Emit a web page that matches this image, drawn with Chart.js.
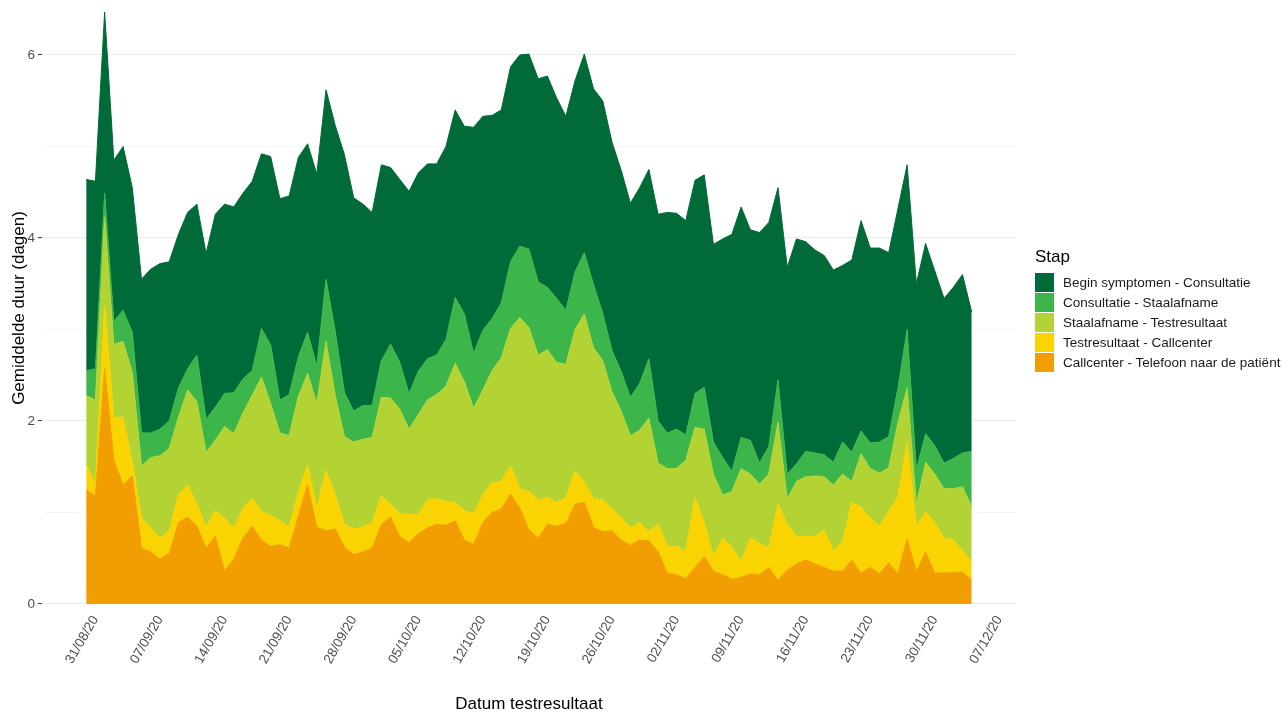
<!DOCTYPE html>
<html>
<head>
<meta charset="utf-8">
<script src="https://cdn.jsdelivr.net/npm/chart.js@4.4.1/dist/chart.umd.min.js"></script>
<style>
  html, body { margin: 0; padding: 0; background: #fff; overflow: hidden; }
  #wrap { position: relative; width: 1288px; height: 715px; font-family: 'Liberation Sans', Arial, sans-serif; }
  #legend { position: absolute; left: 1035px; top: 246px; white-space: nowrap; }
  #legend .title { font-size: 17px; color: #000; height: 26px; line-height: 22px; }
  #legend .row { height: 20px; display: flex; align-items: center; }
  #legend .key { width: 19px; height: 19px; margin-right: 9px; }
  #legend .lab { font-size: 13.5px; color: #1a1a1a; }
</style>
</head>
<body>
<div id="wrap">
  <canvas id="grafiek" width="1288" height="715"></canvas>
  <div id="legend"></div>
</div>
<script>
// eerste dag van de reeks (index 0)
const startDatum = '30/08/20';

const tickLabels = ['31/08/20', '07/09/20', '14/09/20', '21/09/20', '28/09/20', '05/10/20', '12/10/20',
  '19/10/20', '26/10/20', '02/11/20', '09/11/20', '16/11/20', '23/11/20', '30/11/20', '07/12/20'];

const stappen = ['Begin symptomen - Consultatie', 'Consultatie - Staalafname', 'Staalafname - Testresultaat',
  'Testresultaat - Callcenter', 'Callcenter - Telefoon naar de patiënt'];

const callcenterTelefoon = [1.25, 1.18, 2.57, 1.57, 1.30, 1.40, 0.61, 0.57, 0.49, 0.55, 0.89, 0.95, 0.85, 0.61, 0.74, 0.36,
  0.49, 0.72, 0.85, 0.70, 0.63, 0.65, 0.61, 0.96, 1.30, 0.84, 0.80, 0.82, 0.62, 0.54, 0.57, 0.61,
  0.87, 0.95, 0.74, 0.67, 0.77, 0.83, 0.87, 0.86, 0.91, 0.70, 0.65, 0.89, 1.00, 1.04, 1.20, 1.05,
  0.81, 0.72, 0.87, 0.85, 0.88, 1.09, 1.11, 0.84, 0.79, 0.80, 0.70, 0.64, 0.70, 0.69, 0.57, 0.34,
  0.32, 0.28, 0.40, 0.52, 0.36, 0.32, 0.27, 0.29, 0.33, 0.32, 0.40, 0.26, 0.37, 0.44, 0.48, 0.44,
  0.40, 0.36, 0.36, 0.48, 0.34, 0.40, 0.33, 0.45, 0.33, 0.71, 0.35, 0.57, 0.34, 0.34, 0.34, 0.35, 0.26];

const testresultaatCallcenter = [0.28, 0.12, 0.69, 0.47, 0.74, 0.15, 0.33, 0.26, 0.23, 0.25, 0.30, 0.35, 0.24, 0.23, 0.28, 0.58,
  0.34, 0.32, 0.30, 0.31, 0.34, 0.26, 0.23, 0.26, 0.22, 0.21, 0.66, 0.37, 0.25, 0.28, 0.27, 0.28,
  0.31, 0.14, 0.25, 0.31, 0.21, 0.31, 0.28, 0.26, 0.20, 0.32, 0.34, 0.30, 0.33, 0.30, 0.31, 0.21,
  0.42, 0.41, 0.30, 0.26, 0.28, 0.36, 0.23, 0.31, 0.35, 0.24, 0.24, 0.19, 0.19, 0.10, 0.30, 0.29,
  0.31, 0.30, 0.76, 0.37, 0.16, 0.40, 0.35, 0.17, 0.39, 0.34, 0.21, 0.83, 0.50, 0.30, 0.26, 0.30,
  0.41, 0.22, 0.32, 0.63, 0.72, 0.54, 0.52, 0.56, 0.84, 1.06, 0.50, 0.44, 0.55, 0.38, 0.36, 0.23, 0.20];

const staalafnameTestresultaat = [0.75, 0.93, 0.97, 0.80, 0.83, 0.98, 0.57, 0.77, 0.90, 0.90, 0.85, 1.04, 1.12, 0.82, 0.77, 1.00,
  1.03, 1.05, 1.13, 1.47, 1.22, 0.96, 1.00, 1.05, 1.00, 1.14, 1.41, 1.09, 0.96, 0.95, 0.96, 0.93,
  1.08, 1.16, 1.14, 0.93, 1.09, 1.09, 1.14, 1.26, 1.52, 1.41, 1.15, 1.15, 1.22, 1.35, 1.50, 1.87,
  1.79, 1.59, 1.61, 1.53, 1.46, 1.55, 1.83, 1.65, 1.52, 1.28, 1.17, 1.01, 1.01, 1.24, 0.67, 0.85,
  0.85, 0.99, 0.77, 1.02, 0.90, 0.47, 0.61, 1.02, 0.70, 0.65, 0.81, 0.90, 0.28, 0.60, 0.65, 0.66,
  0.58, 0.72, 0.74, 0.23, 0.58, 0.54, 0.58, 0.48, 0.81, 0.59, 0.24, 0.54, 0.53, 0.54, 0.56, 0.70, 0.60];

const consultatieStaalafname = [0.27, 0.34, 0.26, 0.25, 0.34, 0.44, 0.36, 0.27, 0.29, 0.30, 0.32, 0.23, 0.51, 0.36, 0.36, 0.36,
  0.45, 0.37, 0.27, 0.53, 0.64, 0.36, 0.45, 0.43, 0.45, 0.41, 0.68, 0.70, 0.48, 0.34, 0.37, 0.35,
  0.40, 0.59, 0.51, 0.39, 0.47, 0.45, 0.43, 0.51, 0.72, 0.74, 0.60, 0.65, 0.57, 0.60, 0.73, 0.78,
  0.86, 0.80, 0.68, 0.70, 0.59, 0.63, 0.67, 0.69, 0.52, 0.45, 0.43, 0.42, 0.51, 0.65, 0.46, 0.39,
  0.43, 0.28, 0.37, 0.46, 0.35, 0.41, 0.22, 0.34, 0.37, 0.23, 0.30, 0.46, 0.27, 0.19, 0.28, 0.25,
  0.24, 0.25, 0.35, 0.32, 0.25, 0.28, 0.34, 0.34, 0.38, 0.64, 0.38, 0.31, 0.31, 0.28, 0.33, 0.37, 0.61];

const beginConsultatie = [2.09, 2.05, 1.98, 1.76, 1.79, 1.58, 1.68, 1.79, 1.81, 1.74, 1.68, 1.71, 1.65, 1.81, 2.11, 2.07,
  2.03, 2.03, 2.07, 1.91, 2.06, 2.20, 2.17, 2.18, 2.06, 2.10, 2.07, 2.25, 2.60, 2.33, 2.20, 2.11,
  2.14, 1.93, 2.00, 2.21, 2.17, 2.13, 2.09, 2.11, 2.05, 2.05, 2.47, 2.34, 2.22, 2.11, 2.13, 2.09,
  2.13, 2.22, 2.31, 2.19, 2.12, 2.09, 2.17, 2.14, 2.32, 2.28, 2.20, 2.12, 2.14, 2.07, 2.26, 2.41,
  2.36, 2.34, 2.33, 2.32, 2.16, 2.39, 2.59, 2.52, 2.30, 2.52, 2.45, 2.10, 2.26, 2.46, 2.29, 2.22,
  2.18, 2.10, 1.93, 2.10, 2.30, 2.13, 2.12, 2.01, 1.96, 1.80, 2.03, 2.08, 1.91, 1.80, 1.87, 1.95, 1.52];

const kleuren = ['#006a39', '#3cb64b', '#b3d335', '#f9d402', '#f29e02'];

// van onder naar boven gestapeld
const reeksen = [callcenterTelefoon, testresultaatCallcenter, staalafnameTestresultaat, consultatieStaalafname, beginConsultatie];

function dagIndex(label) {
  const p = label.split('/').map(Number);
  const s = startDatum.split('/').map(Number);
  return Math.round((Date.UTC(2000 + p[2], p[1] - 1, p[0]) - Date.UTC(2000 + s[2], s[1] - 1, s[0])) / 86400000);
}

const nDagen = callcenterTelefoon.length;
const totalen = callcenterTelefoon.map((v, i) => reeksen.reduce((s, r) => s + r[i], 0));
const yMax = Math.max(...totalen);
const xPad = 0.05 * (nDagen - 1);

const fontFam = "'Liberation Sans', Arial, sans-serif";

const datasets = reeksen.map((r, k) => ({
  label: stappen[4 - k],
  data: r.map((v, i) => ({ x: i, y: v })),
  backgroundColor: kleuren[4 - k],
  borderColor: kleuren[4 - k],
  borderWidth: 1,
  pointRadius: 0,
  tension: 0,
  fill: k === 0 ? 'origin' : '-1'
}));

const ctx = document.getElementById('grafiek');
new Chart(ctx, {
  type: 'line',
  data: { datasets: datasets },
  options: {
    responsive: false,
    animation: false,
    events: [],
    layout: { padding: { top: 12, right: 272, left: 0, bottom: 0 } },
    plugins: { legend: { display: false }, tooltip: { enabled: false } },
    scales: {
      x: {
        type: 'linear',
        min: -xPad,
        max: nDagen - 1 + xPad,
        afterBuildTicks: axis => { axis.ticks = tickLabels.map(l => ({ value: dagIndex(l) })); },
        ticks: {
          autoSkip: false,
          minRotation: 60,
          maxRotation: 60,
          padding: 9,
          color: '#4d4d4d',
          font: { family: fontFam, size: 13.5 },
          callback: (v, i) => tickLabels[i]
        },
        grid: { display: false, drawTicks: false },
        border: { display: false },
        title: {
          display: true,
          text: 'Datum testresultaat',
          color: '#000',
          font: { family: fontFam, size: 17 },
          padding: { top: 19, bottom: 0 }
        }
      },
      y: {
        stacked: true,
        min: 0,
        max: yMax,
        afterBuildTicks: axis => { axis.ticks = [0, 1, 2, 3, 4, 5, 6].map(v => ({ value: v })); },
        ticks: {
          padding: 3,
          color: '#4d4d4d',
          font: { family: fontFam, size: 13.5 },
          callback: v => (v % 2 === 0 ? v : '')
        },
        grid: {
          color: c => (c.tick && c.tick.value % 2 ? '#f3f3f3' : '#ebebeb'),
          lineWidth: c => (c.tick && c.tick.value % 2 ? 0.7 : 1.1),
          tickColor: c => (c.tick && c.tick.value % 2 ? 'rgba(0,0,0,0)' : '#444'),
          tickLength: 4
        },
        border: { display: false },
        title: {
          display: true,
          text: 'Gemiddelde duur (dagen)',
          color: '#000',
          font: { family: fontFam, size: 17 },
          padding: { top: 9, bottom: -5 }
        }
      }
    }
  }
});

// legenda
const leg = document.getElementById('legend');
let html = '<div class="title">Stap</div>';
stappen.forEach((s, k) => {
  html += '<div class="row"><div class="key" style="background:' + kleuren[k] + '"></div><div class="lab">' + s + '</div></div>';
});
leg.innerHTML = html;
</script>
</body>
</html>
